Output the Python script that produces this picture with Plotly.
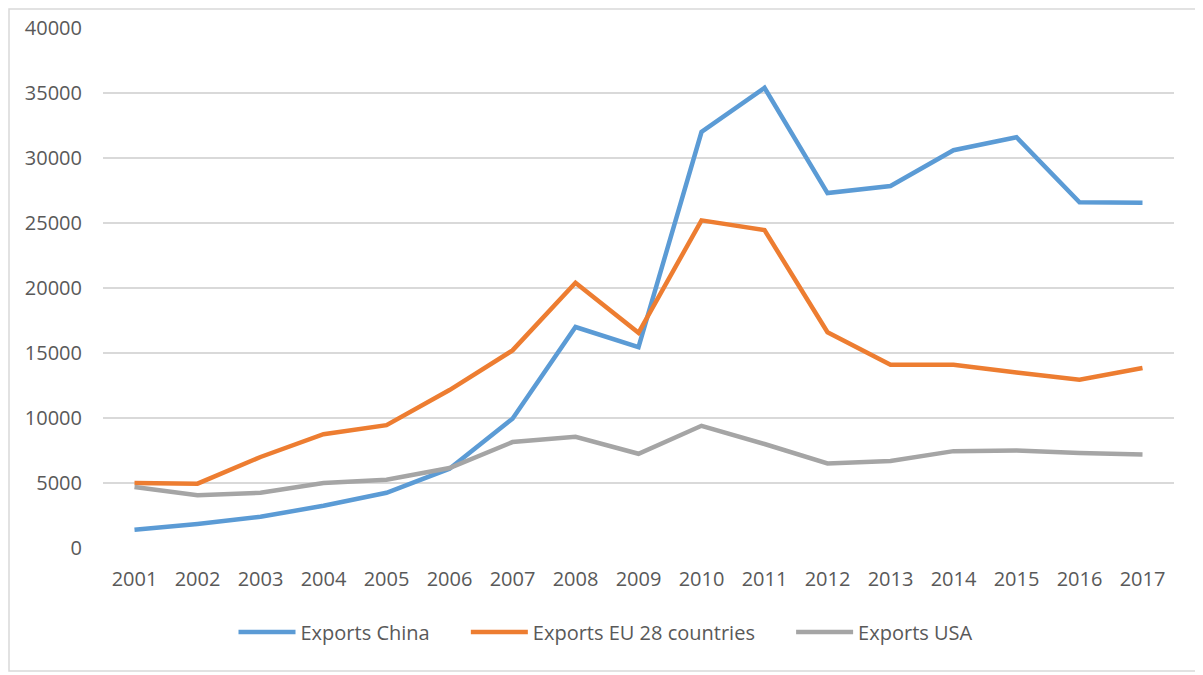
import plotly.graph_objects as go

years = [str(y) for y in range(2001, 2018)]
china = [1400, 1850, 2400, 3250, 4250, 6100, 9950, 17000, 15450, 32000, 35400, 27300, 27850, 30600, 31600, 26600, 26550]
eu28 = [5000, 4950, 7000, 8750, 9450, 12150, 15200, 20400, 16550, 25200, 24450, 16600, 14100, 14100, 13500, 12950, 13850]
usa = [4700, 4050, 4250, 5000, 5250, 6150, 8150, 8550, 7250, 9400, 8000, 6500, 6700, 7450, 7500, 7300, 7200]
y_ticks = [0, 5000, 10000, 15000, 20000, 25000, 30000, 35000, 40000]

series = [
    ("Exports China", china, "#5B9BD5"),
    ("Exports EU 28 countries", eu28, "#ED7D31"),
    ("Exports USA", usa, "#A5A5A5"),
]

pad = "\u00a0" * 6
fig = go.Figure()
for i, (name, vals, col) in enumerate(series):
    label = name + (pad if i < len(series) - 1 else "")
    fig.add_trace(go.Scatter(x=years, y=vals, name=label, mode="lines",
                             line=dict(color=col, width=4.5)))

font_family = "Open Sans"
# page body has an 8px margin, so the figure is drawn 8px in from the window edge
W, H = 1195, 667
L, R, T, B = 95, 29, 20, 127
pw, ph = W - L - R, H - T - B

fig.update_layout(
    template="none",
    width=W, height=H,
    margin=dict(l=L, r=R, t=T, b=B, pad=0, autoexpand=False),
    paper_bgcolor="white", plot_bgcolor="white",
    font=dict(family=font_family, size=20, color="#595959"),
    showlegend=True,
    legend=dict(orientation="h", x=(598 - L) / pw, xanchor="center",
                y=(H - B - 624) / ph, yanchor="middle",
                itemwidth=57, font=dict(size=20, color="#595959"),
                tracegroupgap=0, bgcolor="rgba(0,0,0,0)"),
    xaxis=dict(type="category", range=[-0.5, len(years) - 0.5], automargin=False,
               showgrid=False, zeroline=False, showline=False,
               ticks="", tickfont=dict(size=20), ticklabelstandoff=17),
    yaxis=dict(range=[0, 40000], tickvals=y_ticks, ticktext=[str(v) for v in y_ticks],
               automargin=False,
               showgrid=True, gridcolor="#D9D9D9", gridwidth=1.5,
               zeroline=False, showline=False, ticks="",
               tickfont=dict(size=20), ticklabelstandoff=20),
)

fig.add_shape(type="rect", xref="paper", yref="paper",
              x0=(1 - L) / pw, x1=(1192 - L) / pw,
              y0=(H - B - 663) / ph, y1=(H - B - 1) / ph,
              line=dict(color="#D9D9D9", width=1.5), fillcolor="rgba(0,0,0,0)",
              layer="below")

fig.write_html("out.html")
